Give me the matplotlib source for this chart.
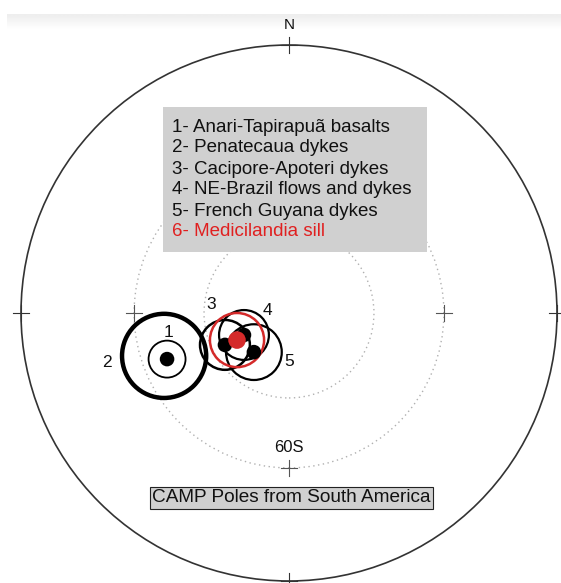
import matplotlib
matplotlib.use("Agg")
import matplotlib.pyplot as plt
import numpy as np
from matplotlib.patches import Circle, Rectangle

plt.rcParams['font.family'] = ['Liberation Sans', 'DejaVu Sans']

# ---- data (units: outer circle radius = 1, centre = south pole) ----
pole_ids = ["1", "2", "3", "4", "5", "6"]
pole_x = [-0.455, -0.466, -0.239, -0.168, -0.131, -0.194]
pole_y = [-0.172, -0.160, -0.119, -0.082, -0.146, -0.101]
a95 = [0.069, 0.157, 0.093, 0.093, 0.104, 0.101]
pole_colors = ["black", "black", "black", "black", "black", "#d42a2a"]
circle_lw = [1.3, 3.2, 1.8, 1.6, 1.6, 1.8]
show_dot = [True, False, True, True, True, True]
label_x = [-0.45, -0.68, -0.29, -0.08, 0.0]
label_y = [-0.072, -0.186, 0.03, 0.01, -0.18]

legend_lines = ["1- Anari-Tapirapuã basalts", "2- Penatecaua dykes",
                "3- Cacipore-Apoteri dykes", "4- NE-Brazil flows and dykes",
                "5- French Guyana dykes", "6- Medicilandia sill"]
legend_colors = ["#111111"] * 5 + ["#e02020"]

lat_circles = [0.578, 0.317]
grid_label = "60S"
title = "CAMP Poles from South America"

W, H = 561, 583
cx, cy, R = 289, 313, 268

fig = plt.figure(figsize=(W / 100, H / 100), dpi=100)
ax = fig.add_axes([0, 0, 1, 1])
ax.set_xlim(-cx / R, (W - cx) / R)
ax.set_ylim(-(H - cy) / R, cy / R)
ax.set_aspect('equal')
ax.axis('off')

# faint top band
grad = np.linspace(0.93, 1.0, 20).reshape(-1, 1)
ax.imshow(grad, cmap='gray', vmin=0, vmax=1, aspect='auto',
          extent=(-(cx - 7) / R, (W - cx) / R, (cy - 30) / R, (cy - 14) / R),
          zorder=0)

# outer circle
ax.add_patch(Circle((0, 0), 1.0, fill=False, ec='#333333', lw=1.2, zorder=1))
# latitude circles (dotted)
for r in lat_circles:
    ax.add_patch(Circle((0, 0), r, fill=False, ec='#b0b0b0', lw=1.0,
                        ls=(0, (1, 2.5)), zorder=1))

# crosses
cs = 0.03
for r, col in [(1.0, '#333333'), (lat_circles[0], '#555555')]:
    for (dx, dy) in [(0, 1), (0, -1), (1, 0), (-1, 0)]:
        px, py = dx * r, dy * r
        ax.plot([px - cs, px + cs], [py, py], color=col, lw=0.8, zorder=2)
        ax.plot([px, px], [py - cs, py + cs], color=col, lw=0.8, zorder=2)

ax.text(0, 1.075, "N", ha='center', va='center', fontsize=11, color='#111111')
ax.text(0, -0.5, grid_label, ha='center', va='center', fontsize=12, color='#111111')

# poles
order = [1, 0, 2, 3, 4, 5]
for i in order:
    ax.add_patch(Circle((pole_x[i], pole_y[i]), a95[i], fill=False,
                        ec=pole_colors[i], lw=circle_lw[i], zorder=3 + (i == 5)))
for i in range(6):
    if show_dot[i]:
        ax.scatter([pole_x[i]], [pole_y[i]], s=110 if i < 5 else 160,
                   color=pole_colors[i], zorder=5 + (i == 5), edgecolors='none')
for i in range(5):
    ax.text(label_x[i], label_y[i], pole_ids[i], ha='center', va='center',
            fontsize=12.5, color='#111111', zorder=6)

# legend box
x0, x1 = (163 - cx) / R, (427 - cx) / R
y0, y1 = (cy - 252) / R, (cy - 107) / R
ax.add_patch(Rectangle((x0, y0), x1 - x0, y1 - y0, fc='#d0d0d0', ec='none', zorder=7))
for k, (t, c) in enumerate(zip(legend_lines, legend_colors)):
    ypx = 127 + 21 * k
    ax.text((172 - cx) / R, (cy - ypx) / R, t, ha='left', va='center',
            fontsize=13.5, color=c, zorder=8)

# title box
ax.text(0.01, (cy - 498) / R, title, ha='center', va='center', fontsize=13.7,
        color='#111111', zorder=8,
        bbox=dict(boxstyle='square,pad=0.12', fc='#d0d0d0', ec='#222222', lw=0.8))

fig.savefig("out.png", dpi=100)
